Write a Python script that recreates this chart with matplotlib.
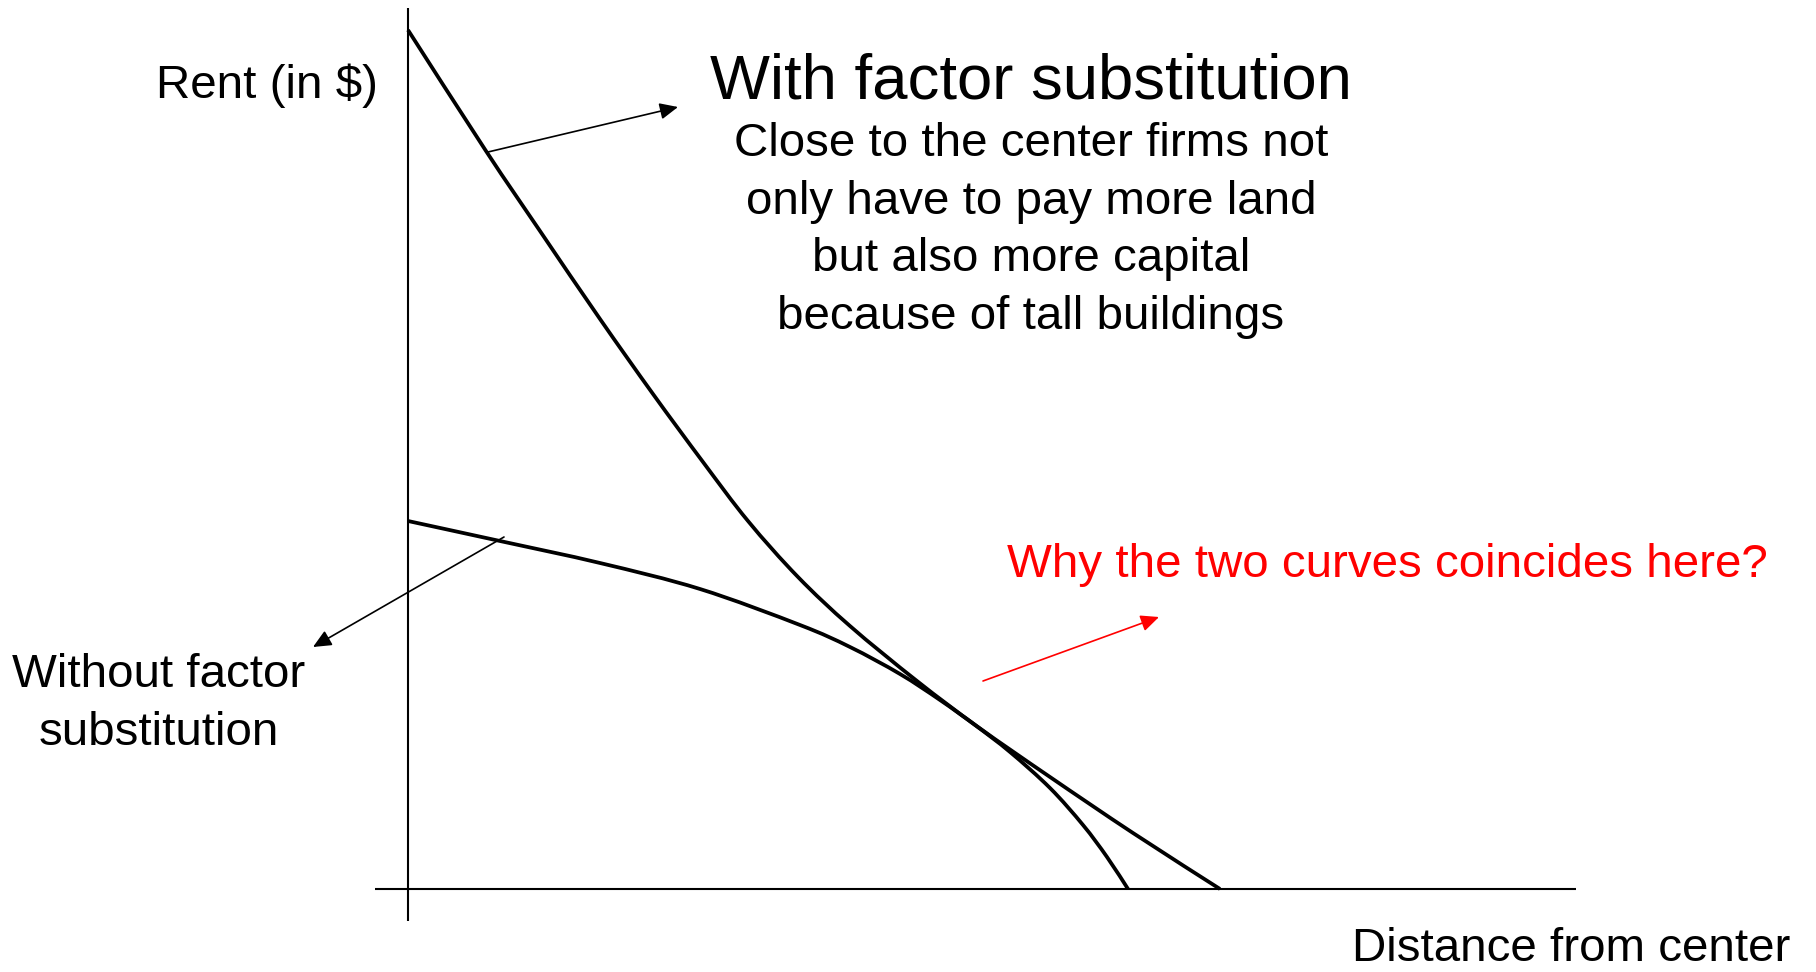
import matplotlib
matplotlib.use("Agg")
import matplotlib.pyplot as plt
from matplotlib.path import Path
from matplotlib.patches import PathPatch

plt.rcParams['font.family'] = ['Liberation Sans', 'DejaVu Sans']

# ---- data (arbitrary units: distance from center, rent) ----
dist_with = [0.00, 0.78, 1.32, 1.92, 2.45, 2.95, 3.40, 3.90, 4.42, 5.09, 5.70, 6.42, 7.25, 8.12]
rent_with = [8.59, 7.38, 6.58, 5.70, 4.95, 4.27, 3.68, 3.12, 2.63, 2.08, 1.62, 1.12, 0.56, 0.00]

dist_without = [0.00, 0.92, 1.92, 2.92, 3.92, 4.42, 4.92, 5.32, 5.67, 6.02, 6.42, 6.75, 6.99, 7.20]
rent_without = [3.68, 3.48, 3.26, 3.00, 2.64, 2.42, 2.15, 1.89, 1.64, 1.37, 1.01, 0.64, 0.32, 0.00]

title_text = "With factor substitution"
body_lines = ["Close to the center firms not",
              "only have to pay more land",
              "but also more capital",
              "because of tall buildings"]
without_lines = ["Without factor", "substitution"]
y_label = "Rent (in $)"
x_label = "Distance from center"
question = "Why the two curves coincides here?"

# ---- figure ----
fig = plt.figure(figsize=(18.16, 9.72), dpi=100)
ax = fig.add_axes([0, 0, 1, 1])
ax.set_xlim(-4.08, 14.08)
ax.set_ylim(-0.83, 8.89)
ax.axis('off')

# axes lines
ax.plot([0, 0], [-0.32, 8.81], color='black', lw=1.5, solid_capstyle='butt')
ax.plot([-0.33, 11.68], [0, 0], color='black', lw=1.5, solid_capstyle='butt')


def smooth_curve(xs, ys, **kw):
    """Smooth curve through the given points (Catmull-Rom as cubic Bezier)."""
    pts = list(zip(xs, ys))
    verts = [pts[0]]
    codes = [Path.MOVETO]
    n = len(pts)
    for i in range(n - 1):
        p0 = pts[i - 1] if i > 0 else pts[i]
        p1 = pts[i]
        p2 = pts[i + 1]
        p3 = pts[i + 2] if i + 2 < n else pts[i + 1]
        c1 = (p1[0] + (p2[0] - p0[0]) / 6.0, p1[1] + (p2[1] - p0[1]) / 6.0)
        c2 = (p2[0] - (p3[0] - p1[0]) / 6.0, p2[1] - (p3[1] - p1[1]) / 6.0)
        verts += [c1, c2, p2]
        codes += [Path.CURVE4] * 3
    ax.add_patch(PathPatch(Path(verts, codes), fill=False, **kw))


smooth_curve(dist_with, rent_with, edgecolor='black', lw=2.7, capstyle='butt')
smooth_curve(dist_without, rent_without, edgecolor='black', lw=2.7, capstyle='butt')


# arrows
def arrow(tail, head, color='black'):
    ax.annotate('', xy=head, xytext=tail,
                arrowprops=dict(arrowstyle='-|>,head_length=1.1,head_width=0.5',
                                mutation_scale=10, lw=1.2, color=color,
                                shrinkA=0, shrinkB=0))


arrow((0.80, 7.37), (2.70, 7.82))
arrow((0.96, 3.52), (-0.95, 2.42))
arrow((5.75, 2.08), (7.51, 2.72), color='#ff0000')

# texts
fs = 34.2
ax.text(-1.41, 7.91, y_label, fontsize=fs, ha='center', va='baseline')
ax.text(6.23, 7.91, title_text, fontsize=45.7, ha='center', va='baseline')
for i, line in enumerate(body_lines):
    ax.text(6.23, 7.33 - i * 0.577, line, fontsize=fs, ha='center', va='baseline')
for i, line in enumerate(without_lines):
    ax.text(-2.49, 2.02 - i * 0.58, line, fontsize=fs, ha='center', va='baseline')
ax.text(11.63, -0.72, x_label, fontsize=fs, ha='center', va='baseline')
ax.text(9.79, 3.12, question, fontsize=fs, ha='center', va='baseline', color='#ff0000')

fig.savefig('out.png', dpi=100)
